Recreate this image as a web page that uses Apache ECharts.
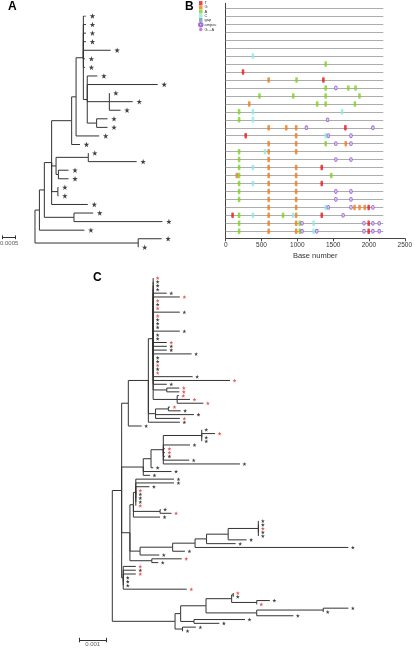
<!DOCTYPE html>
<html><head><meta charset="utf-8">
<script src="https://cdn.jsdelivr.net/npm/echarts@6/dist/echarts.min.js"></script>
<style>html,body{margin:0;padding:0;background:#fff}#c{width:415px;height:649px}</style>
</head><body><div id="c"></div>
<script>
// ---------- Panel A tree: [node, parent, depth (x1e-4 subs/site)] ; leaves listed top→bottom
const treeA = [
 ['R',null,0],['A1','R',1.7],['A2','A1',3.6],['A3','A2',6.4],['A5','A3',14.1],['A6','A5',15.8],['A7','A6',18.6],
 ['a1','A7',19.6],['a2','A7',19.6],['a3','A7',19.6],['a4','A7',19.6],['a5','A7',29.1],['a6','A7',19.2],['a7','A7',19.2],
 ['A8','A7',20.1],['a8','A8',24.0],['a9','A8',47.2],['A9','A8',28.6],['a10','A9',28.6],['a11','A9',37.6],['a12','A9',32.9],
 ['A10','A8',23.7],['a13','A10',27.9],['a14','A10',27.9],
 ['a15','A6',24.7],['a16','A5',17.3],
 ['A11','A3',8.1],['A12','A11',20.5],['a17','A12',20.5],['a18','A12',39.1],['A13','A11',9.0],['a19','A13',12.9],['a20','A13',12.9],
 ['A14','A3',8.8],['a21','A14',9.0],['a22','A14',9.0],['a23','A3',20.3],
 ['A15','A2',15.0],['a24','A15',22.4],['a25','A15',49.0],['a26','A1',19.0],
 ['Z','R',39.7],['a27','Z',48.7],['a28','Z',39.7]
];
const scaleA = 5; // 0.0005 in units of 1e-4
const scaleALabel = '0.0005';

// ---------- Panel B: sites (base number, sequence row)
const rowCount = 29;
const rowEnd = 2200;
const siteT = [[242,8],[1364,9],[1671,15],[279,16],[1341,20],[1341,22],[1996,25],[96,26],[1341,26],[1996,27],[1996,28]];
const siteG = [[600,9],[329,12],[600,15],[846,15],[984,15],[984,16],[600,17],[984,17],[1676,17],[600,18],[984,18],[600,19],[600,20],[984,20],[155,21],[600,21],[984,21],[600,22],[984,22],[600,23],[984,23],[600,24],[984,24],[600,25],[984,25],[1799,25],[1868,25],[1941,25],[600,26],[984,26],[600,27],[984,27],[600,28],[984,28]];
const siteA = [[1396,7],[989,9],[1396,10],[1712,10],[1813,10],[471,11],[943,11],[1396,11],[1868,11],[1277,12],[1396,12],[1804,12],[187,13],[187,14],[1396,17],[187,18],[187,19],[187,20],[187,21],[1474,21],[187,22],[187,23],[187,24],[187,26],[801,26],[187,27],[1034,27],[187,28],[1034,28]];
const siteC = [[380,6],[380,13],[1625,13],[380,14],[1396,16],[549,18],[380,20],[380,22],[1396,25],[380,26],[943,26],[1227,27],[1227,28]];
const siteGap = [];
const siteAmb = [[1538,10],[1423,14],[1126,15],[2055,15],[1433,16],[1749,16],[1538,17],[1749,17],[1538,19],[1749,19],[1538,23],[1749,23],[1538,24],[1749,24],[1433,25],[1749,25],[2055,25],[1639,26],[1066,27],[1931,27],[2055,27],[2143,27],[1066,28],[1272,28],[1931,28],[2055,28],[2143,28]];
const siteGA = [];

// ---------- Panel C tree
const treeC = [
 ['root',null,0],['M','root',3.5],['Ma','M',6.0],['V','Ma',13.5],['U','V',15.3],
 ['c1','U',15.3],['c2','U',15.3],['c3','U',15.3],['c4','U',15.3],['c5','U',20.4],['c6','U',25.3],['c7','U',15.3],['c8','U',15.3],
 ['c9','U',15.3],['c10','U',25.3],['c11','U',15.3],['c12','U',15.3],['c13','U',15.3],['c14','U',15.3],['c15','U',25.3],['c16','U',15.3],
 ['c17','U',15.3],['c18','U',20.4],['c19','U',20.4],['c20','U',20.4],['c21','U',29.7],['c22','U',15.3],['c23','U',15.3],['c24','U',15.3],
 ['c25','U',15.3],['c26','U',15.3],['c27','U',30.1],['c28','U',44.1],['c29','U',20.4],
 ['X2','U',20.4],['c30','X2',25.1],['c31','X2',25.1],
 ['X3','U',24.3],['c32','X3',24.9],['c33','X3',29.1],['c34','X3',34.1],
 ['W','V',16.2],['W1','W',21.0],['c35','W1',21.6],['c36','W1',25.6],['c37','W',30.6],['c38','W',25.3],
 ['c39','V',25.3],['c40','Ma',11.0],
 ['N160','M',11.6],['N183','N160',14.5],['P','N183',19.1],['Q','P',33.5],
 ['c41','Q',33.5],['c42','Q',38.5],['c43','Q',33.5],['c44','Q',33.5],
 ['c45','P',29.1],['c46','P',19.7],['c47','P',19.7],['c48','P',19.7],['c49','P',28.8],['c50','P',47.8],
 ['c51','N183',15.3],['c52','N160',22.2],['c53','N160',14.1],
 ['I','M',6.6],['J','I',7.9],['K','J',8.8],
 ['c54','K',23.1],['c55','K',23.1],['c56','K',13.9],['c57','K',8.8],['c58','K',8.8],['c59','K',8.8],['c60','K',8.8],['c61','K',8.8],
 ['J1','J',17.9],['c62','J1',18.1],['c63','J1',22.2],['c64','J',17.9],
 ['H','I',10.4],['H1','H',22.6],['H2','H1',31.0],['H3','H2',35.3],['H4','H3',43.4],['H5','H4',54.7],
 ['c65','H5',54.7],['c66','H5',54.7],['c67','H5',54.7],['c68','H5',54.7],['c69','H5',54.7],
 ['c70','H4',50.3],['c71','H3',46.2],['c72','H2',88.4],['c73','H1',27.2],['c74','H',17.6],
 ['G','I',14.8],['c75','G',26.0],['c76','G',17.2],
 ['Md','M',4.1],['c77','Md',8.8],['c78','Md',8.8],['c79','Md',8.8],['c80','Md',4.1],['c81','Md',4.1],['c82','Md',4.1],['c83','Md',27.9],
 ['B','root',23.5],['B1','B',25.6],['B3','B1',35.1],['B5','B3',44.7],['B7','B5',45.3],['c84','B7',45.3],['c85','B7',45.3],
 ['B8','B5',54.1],['c86','B8',59.0],['c87','B8',54.1],
 ['B6','B3',54.1],['B9','B6',79.0],['c88','B9',88.4],['c89','B9',79.0],['c90','B6',67.8],
 ['B4','B1',30.6],['c91','B4',49.7],['c92','B4',40.1],
 ['B2','B',26.3],['c93','B2',31.3],['c94','B2',26.5]
];
const redLeavesC = ['c1','c6','c7','c9','c11','c18','c24','c26','c28','c30','c31','c32','c33','c34','c35','c38','c42','c46','c47','c57','c61','c63','c67','c75','c77','c79','c83','c84','c87'];
const scaleC = 10; // 0.001 in units of 1e-4
const scaleCLabel = '0.001';

// ---------- layout helpers
function layoutTree(nodes){
  const by={}, kids={};
  nodes.forEach(n=>{by[n[0]]={id:n[0],parent:n[1],depth:n[2]};kids[n[0]]=[];});
  nodes.forEach(n=>{if(n[1]!==null)kids[n[1]].push(n[0]);});
  let k=0; const leaves=[];
  nodes.forEach(n=>{if(kids[n[0]].length===0){by[n[0]].y=k++;leaves.push(by[n[0]]);}});
  function yOf(id){const d=by[id];if(d.y!==undefined)return d.y;const ys=kids[id].map(yOf);d.y=(Math.min(...ys)+Math.max(...ys))/2;return d.y;}
  nodes.forEach(n=>yOf(n[0]));
  const edges=[];
  nodes.forEach(n=>{if(n[1]!==null){const p=by[n[1]],c=by[n[0]];edges.push({coords:[[p.depth,p.y],[p.depth,c.y],[c.depth,c.y]]});}});
  return {edges,leaves};
}
const STAR='path://M12,0 L14.9,8.6 L24,8.6 L16.6,14 L19.4,22.8 L12,17.4 L4.6,22.8 L7.4,14 L0,8.6 L9.1,8.6 Z';
const LA=layoutTree(treeA), LC=layoutTree(treeC);
const treeColor='#333';

function scaleBar(x0,len,y,h,xi){
  return [
   {type:'lines',coordinateSystem:'cartesian2d',xAxisIndex:xi,yAxisIndex:xi,polyline:false,silent:true,
    lineStyle:{color:'#333',width:1,opacity:1},
    data:[{coords:[[x0,y],[x0+len,y]]},{coords:[[x0,y-h],[x0,y+h]]},{coords:[[x0+len,y-h],[x0+len,y+h]]}]}
  ];
}

const colors={T:'#e8141c',G:'#ef7a1a',A:'#7ed321',C:'#86ece6',gap:'#6f9c9c',amb:'#8c4fd0',GA:'#b45fd6'};
function siteSeries(name,data,color,symbol,size,extra){
  return Object.assign({type:'scatter',name:name,xAxisIndex:1,yAxisIndex:1,data:data,symbol:symbol,symbolSize:size,
    itemStyle:{color:color},silent:true},extra||{});
}

const option={
  animation:false,
  backgroundColor:'#fff',
  grid:[
    {left:0,top:16,width:175,height:27*8.567},
    {left:225.7,top:3.3,width:182,height:235},
    {left:0,top:274.2,width:360,height:98*3.795}
  ],
  xAxis:[
    {gridIndex:0,type:'value',min:-13.46,max:53.85,show:false},
    {gridIndex:1,type:'value',min:0,max:2500,interval:500,
     axisLine:{onZero:false,lineStyle:{color:'#444',width:1}},axisTick:{length:3,lineStyle:{color:'#444'}},
     axisLabel:{fontSize:6.5,color:'#333',margin:3,fontFamily:'Liberation Sans',formatter:v=>String(v)},splitLine:{show:false},
     name:'Base number',nameLocation:'middle',nameGap:14,nameTextStyle:{fontSize:7.5,color:'#333',fontFamily:'Liberation Sans'}},
    {gridIndex:2,type:'value',min:-42.06,max:92.77,show:false}
  ],
  yAxis:[
    {gridIndex:0,type:'value',min:0,max:27,inverse:true,show:false},
    {gridIndex:1,type:'value',min:-0.63,max:28.88,inverse:true,axisLine:{show:true,onZero:false,lineStyle:{color:'#444'}},
     axisTick:{show:false},axisLabel:{show:false},splitLine:{show:false}},
    {gridIndex:2,type:'value',min:-1,max:97,inverse:true,show:false}
  ],
  legend:{orient:'vertical',left:198,top:1,itemWidth:3.5,itemHeight:4,itemGap:0,padding:0,
    textStyle:{fontSize:4,color:'#333',padding:[0,0,0,-3],fontFamily:'Liberation Sans',lineHeight:4.2},
    data:[{name:'T',icon:'rect'},{name:'G',icon:'rect'},{name:'A',icon:'rect'},{name:'C',icon:'rect'},{name:'gap',icon:'rect'},
          {name:'ampoc',icon:'circle'},{name:'G→A',icon:'circle'}]},
  graphic:[
    {type:'text',left:8,top:1,style:{text:'A',font:'bold 12px "Liberation Sans"',fill:'#000'}},
    {type:'text',left:185,top:1,style:{text:'B',font:'bold 12px "Liberation Sans"',fill:'#000'}},
    {type:'text',left:93,top:272,style:{text:'C',font:'bold 12px "Liberation Sans"',fill:'#000'}}
  ],
  series:[
    {type:'lines',coordinateSystem:'cartesian2d',xAxisIndex:0,yAxisIndex:0,polyline:true,silent:true,
     lineStyle:{color:treeColor,width:1,opacity:1},data:LA.edges},
    {type:'scatter',xAxisIndex:0,yAxisIndex:0,symbol:STAR,symbolSize:5.5,symbolOffset:[6.5,0],silent:true,
     itemStyle:{color:'#111'},data:LA.leaves.map(l=>[l.depth,l.y])},
    ...scaleBar(-12.42,scaleA,25.83,0.22,0),
    {type:'scatter',xAxisIndex:0,yAxisIndex:0,symbolSize:0,silent:true,data:[[-12.42+scaleA/2,25.83]],
     label:{show:true,position:'bottom',distance:3,formatter:scaleALabel,fontSize:6,color:'#333',fontFamily:'Liberation Sans'}},

    {type:'lines',coordinateSystem:'cartesian2d',xAxisIndex:1,yAxisIndex:1,silent:true,
     lineStyle:{color:'#adadad',width:1,opacity:1},
     data:Array.from({length:rowCount},(_, r)=>({coords:[[0,r],[rowEnd,r]]}))},
    siteSeries('T',siteT,colors.T,'roundRect',[2.6,5.5]),
    siteSeries('G',siteG,colors.G,'roundRect',[2.6,5.5]),
    siteSeries('A',siteA,colors.A,'roundRect',[2.6,5.5]),
    siteSeries('C',siteC,colors.C,'roundRect',[2.6,5.5]),
    siteSeries('gap',siteGap,colors.gap,'roundRect',[2.6,5.5]),
    siteSeries('ampoc',siteAmb,'#dcc6f5','circle',[2.8,3.8],{itemStyle:{color:'#dcc6f5',borderColor:colors.amb,borderWidth:0.9}}),
    siteSeries('G→A',siteGA,colors.GA,'circle',2),

    {type:'lines',coordinateSystem:'cartesian2d',xAxisIndex:2,yAxisIndex:2,polyline:true,silent:true,
     lineStyle:{color:treeColor,width:1,opacity:1},data:LC.edges},
    {type:'scatter',xAxisIndex:2,yAxisIndex:2,symbol:STAR,symbolSize:4,symbolOffset:[4.5,0],silent:true,
     data:LC.leaves.map(l=>({value:[l.depth,l.y],itemStyle:{color:redLeavesC.includes(l.id)?'#e0302e':'#111'}}))},
    ...scaleBar(-12.36,scaleC,95.4,0.6,2),
    {type:'scatter',xAxisIndex:2,yAxisIndex:2,symbolSize:0,silent:true,data:[[-12.36+scaleC/2,95.4]],
     label:{show:true,position:'bottom',distance:1,formatter:scaleCLabel,fontSize:6,color:'#333',fontFamily:'Liberation Sans'}}
  ]
};
const chart=echarts.init(document.getElementById('c'),null,{renderer:'canvas'});
chart.setOption(option);
</script></body></html>
